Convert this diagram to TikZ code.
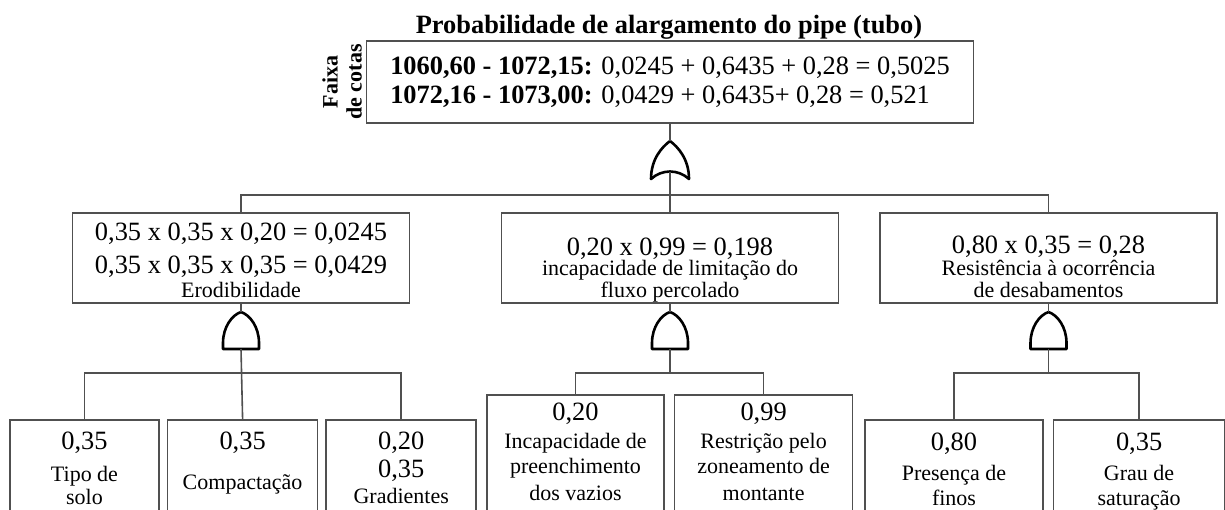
\documentclass[tikz,border=0pt]{standalone}
\usepackage{fontspec}
\setmainfont{Liberation Serif}
\usepackage{xcolor}
\usetikzlibrary{positioning}
\definecolor{linegray}{RGB}{80, 80, 80}
\newcommand{\numfont}{\fontsize{13.2}{15}\selectfont}
\newcommand{\labfont}{\fontsize{11}{12.5}\selectfont}

\begin{document}
\begin{tikzpicture}[
					x=0.5pt, y=-0.5pt,
					box/.style={draw=linegray, line width=0.8pt, inner sep=0pt, align=center, font=\labfont},
					midbox/.style={box, minimum width=168.5pt, text height=42pt, text depth=3pt},
					wire/.style={draw=linegray, line width=0.8pt},
					gateline/.style={draw=black, line width=1.3pt, line join=round},
					andgate/.pic={
						\draw[gateline] (-18,0) -- (-18,-6) .. controls (-18,-22) and (-9,-34) .. (0,-37) .. controls (9,-34) and (18,-22) .. (18,-6) -- (18,0) -- cycle;
						\coordinate (-in) at (0,-37);
						\coordinate (-out) at (0,0);
					},
					orgate/.pic={
						\draw[gateline] (-19,0) .. controls (-19,-20) and (-8,-32) .. (0,-38) .. controls (8,-32) and (19,-20) .. (19,0) .. controls (8,-10) and (-8,-10) .. cycle;
						\coordinate (-in) at (0,-38);
						\coordinate (-out) at (0,-7.5);
					}
				]

				\useasboundingbox (0,0) rectangle (1225,509);
				\clip (0,0) rectangle (1225,509);

				% Top event
				\node[font=\bfseries\numfont, anchor=base] (title) at (669,33) {Probabilidade de alargamento do pipe (tubo)};
				\node[box, font=\numfont, align=left, minimum width=303.5pt, text height=31pt, text depth=10pt] (top) at (670,82) {\textbf{1060,60 - 1072,15:} 0,0245 + 0,6435 + 0,28 = 0,5025\\[-0.5pt]\textbf{1072,16 - 1073,00:} 0,0429 + 0,6435+ 0,28 = 0,521};
				\node[font=\bfseries\labfont, rotate=90, align=center] (faixa) at (342,82) {Faixa\\[-0.5pt]de cotas};
				\pic (gTop) at (670,179) {orgate};
				\draw[wire] (top.south) -- (gTop-in);

				% Intermediate events
				\node[midbox] (ero) at (241,258) {{\numfont 0,35 x 0,35 x 0,20 = 0,0245}\\[4pt]{\numfont 0,35 x 0,35 x 0,35 = 0,0429}\\[-0.5pt]Erodibilidade};
				\node[midbox] (perc) at (670,258) {{\numfont 0,20 x 0,99 = 0,198}\\[-2.5pt]incapacidade de limitação do\\[-1.5pt]fluxo percolado};
				\node[midbox] (res) at (1048.5,258) {{\numfont 0,80 x 0,35 = 0,28}\\[-1.5pt]Resistência à ocorrência\\[-1.5pt]de desabamentos};
				\coordinate (busTop) at (670,195);
				\draw[wire] (gTop-out) -- (perc.north);
				\draw[wire] (ero.north) |- (busTop) -| (res.north);

				% Gates
				\pic (gEro) at (241,349) {andgate};
				\pic (gPerc) at (670,349) {andgate};
				\pic (gRes) at (1048.5,349) {andgate};
				\draw[wire] (ero.south) -- (gEro-in);
				\draw[wire] (perc.south) -- (gPerc-in);
				\draw[wire] (res.south) -- (gRes-in);

				% Basic events: Erodibilidade
				\node[box, minimum width=74.5pt, text height=42pt, text depth=13pt] (tipo) at (84.5,475) {{\numfont 0,35}\\[3.5pt]Tipo de\\[-1pt]solo};
				\node[box, minimum width=75pt, text height=34.5pt, text depth=20.5pt, right=3.5pt of tipo] (comp) {{\numfont 0,35}\\[7.5pt]Compactação};
				\node[box, minimum width=75pt, text height=41.5pt, text depth=13.5pt, right=3.5pt of comp] (grad) {{\numfont 0,20}\\[1.5pt]{\numfont 0,35}\\[0.5pt]Gradientes};
				\coordinate (busEro) at (241,373);
				\draw[wire] (gEro-out) -- (comp.north);
				\draw[wire] (tipo.north) |- (busEro) -| (grad.north);

				% Basic events: fluxo percolado
				\node[box, minimum width=88.5pt, text height=52.5pt, text depth=15pt] (incap) at (575.5,462.5) {{\numfont 0,20}\\[1.5pt]Incapacidade de\\preenchimento\\[1pt]dos vazios};
				\node[box, minimum width=89pt, text height=52.5pt, text depth=15pt, right=4.5pt of incap] (restr) {{\numfont 0,99}\\[1.5pt]Restrição pelo\\zoneamento de\\[1pt]montante};
				\coordinate (busPerc) at (670,373);
				\draw[wire] (gPerc-out) -- (busPerc);
				\draw[wire] (incap.north) |- (busPerc) -| (restr.north);

				% Basic events: desabamentos
				\node[box, minimum width=89pt, text height=42.5pt, text depth=12.5pt] (pres) at (954,475) {{\numfont 0,80}\\[2.5pt]Presença de\\finos};
				\node[box, minimum width=85.5pt, text height=42.5pt, text depth=12.5pt, right=4.5pt of pres] (grau) {{\numfont 0,35}\\[2.5pt]Grau de\\saturação};
				\coordinate (busRes) at (1048.5,373);
				\draw[wire] (gRes-out) -- (busRes);
				\draw[wire] (pres.north) |- (busRes) -| (grau.north);

			\end{tikzpicture}
\end{document}
